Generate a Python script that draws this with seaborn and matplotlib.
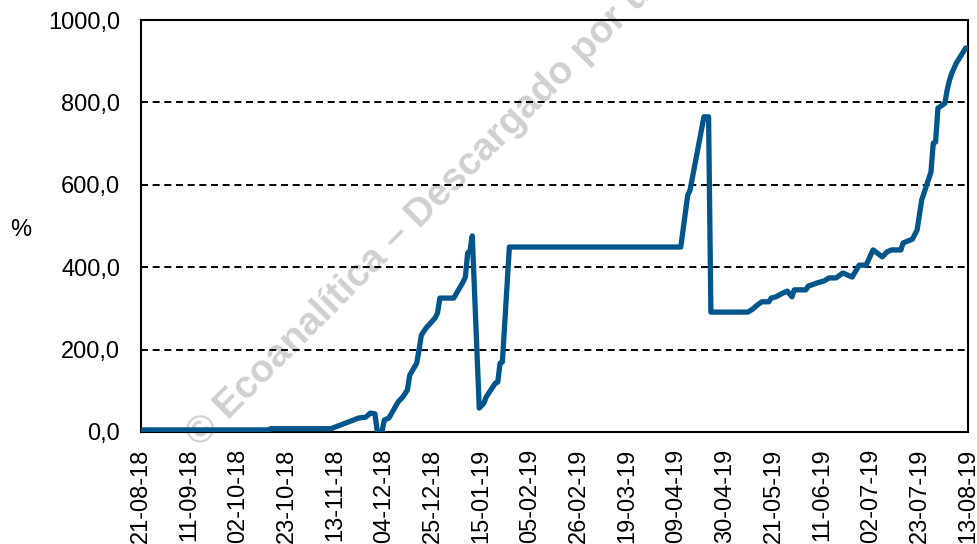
import matplotlib
matplotlib.use('Agg')
import matplotlib.pyplot as plt
import matplotlib.dates as mdates
import matplotlib.ticker as mticker
import pandas as pd
import seaborn as sns

# values (date, %)
dates = ['2018-08-21', '2018-10-15', '2018-10-16', '2018-11-11', '2018-11-23',
         '2018-11-26', '2018-11-28', '2018-11-30', '2018-12-01', '2018-12-03',
         '2018-12-04', '2018-12-06', '2018-12-10', '2018-12-12', '2018-12-14',
         '2018-12-15', '2018-12-18', '2018-12-19', '2018-12-20', '2018-12-22',
         '2018-12-26', '2018-12-27', '2018-12-28', '2019-01-03', '2019-01-07',
         '2019-01-08', '2019-01-09', '2019-01-10', '2019-01-11', '2019-01-14',
         '2019-01-16', '2019-01-17', '2019-01-21', '2019-01-22', '2019-01-23',
         '2019-01-24', '2019-01-27', '2019-04-11', '2019-04-14', '2019-04-15',
         '2019-04-21', '2019-04-23', '2019-04-24', '2019-05-10', '2019-05-12',
         '2019-05-14', '2019-05-16', '2019-05-19', '2019-05-20', '2019-05-22',
         '2019-05-25', '2019-05-27', '2019-05-29', '2019-05-30', '2019-06-04',
         '2019-06-05', '2019-06-09', '2019-06-12', '2019-06-14', '2019-06-17',
         '2019-06-20', '2019-06-24', '2019-06-27', '2019-06-30', '2019-07-03',
         '2019-07-07', '2019-07-09', '2019-07-11', '2019-07-15', '2019-07-16',
         '2019-07-20', '2019-07-22', '2019-07-24', '2019-07-28', '2019-07-29',
         '2019-07-30', '2019-07-31', '2019-08-03', '2019-08-04', '2019-08-05',
         '2019-08-06', '2019-08-08', '2019-08-12', '2019-08-13']
values = [5, 5, 8, 8, 34,
          36, 46, 44, 0, 0,
          29, 34, 73, 85, 102,
          138, 167, 199, 235, 252,
          277, 289, 325, 325, 364,
          376, 434, 440, 476, 58,
          70, 85, 119, 121, 167,
          170, 449, 449, 575, 587,
          765, 765, 291, 291, 298,
          308, 316, 316, 325, 328,
          337, 342, 328, 345, 345,
          354, 362, 367, 374, 374,
          386, 376, 405, 405, 442,
          425, 437, 442, 442, 459,
          468, 490, 563, 631, 701,
          704, 786, 798, 830, 854,
          871, 896, 932, 932]

y_ticks = [0, 200, 400, 600, 800, 1000]
x_start = '2018-08-21'
x_end = '2019-08-13'

df = pd.DataFrame({'fecha': pd.to_datetime(dates), 'valor': values})

sns.set_theme(style='white')
plt.rcParams['font.family'] = ['Liberation Sans', 'DejaVu Sans']

fig = plt.figure(figsize=(9.78, 5.44), dpi=100)
ax = fig.add_axes([0.1442, 0.2059, 0.8456, 0.7573])
ax.set_facecolor('none')

sns.lineplot(data=df, x='fecha', y='valor', ax=ax, color='#00568a', linewidth=3.8,
             estimator=None, sort=False, zorder=3)

ax.set_xlim(pd.Timestamp(x_start), pd.Timestamp(x_end))
ax.set_ylim(0, 1000)
ax.set_yticks(y_ticks)
ax.yaxis.set_major_formatter(mticker.FuncFormatter(lambda v, p: f'{v:.1f}'.replace('.', ',')))
ax.set_xticks(pd.date_range(x_start, x_end, freq='21D'))
ax.xaxis.set_major_formatter(mdates.DateFormatter('%d-%m-%y'))
ax.tick_params(axis='both', length=0, labelsize=17, colors='black')
ax.tick_params(axis='y', pad=15)
ax.tick_params(axis='x', pad=12)
plt.setp(ax.get_xticklabels(), rotation=90)

for v in y_ticks[1:-1]:
    ax.axhline(v, color='black', linewidth=1.4, linestyle=(0, (3.6, 2.4)), zorder=1)

for s in ax.spines.values():
    s.set_color('black')
    s.set_linewidth(1.5)

ax.set_xlabel('')
ax.set_ylabel('%', rotation=0, fontsize=17, color='black', va='center', ha='center')
ax.yaxis.set_label_coords(-0.145, 0.49)

# watermark behind the plot
fig.text(0.2045, 0.1765, '© Ecoanalítica – Descargado por us', rotation=45,
         rotation_mode='anchor', ha='left', va='baseline', fontsize=28,
         fontweight='bold', color='#d0d0d0', zorder=-1)

fig.savefig('out.png', dpi=100)
plt.close(fig)
